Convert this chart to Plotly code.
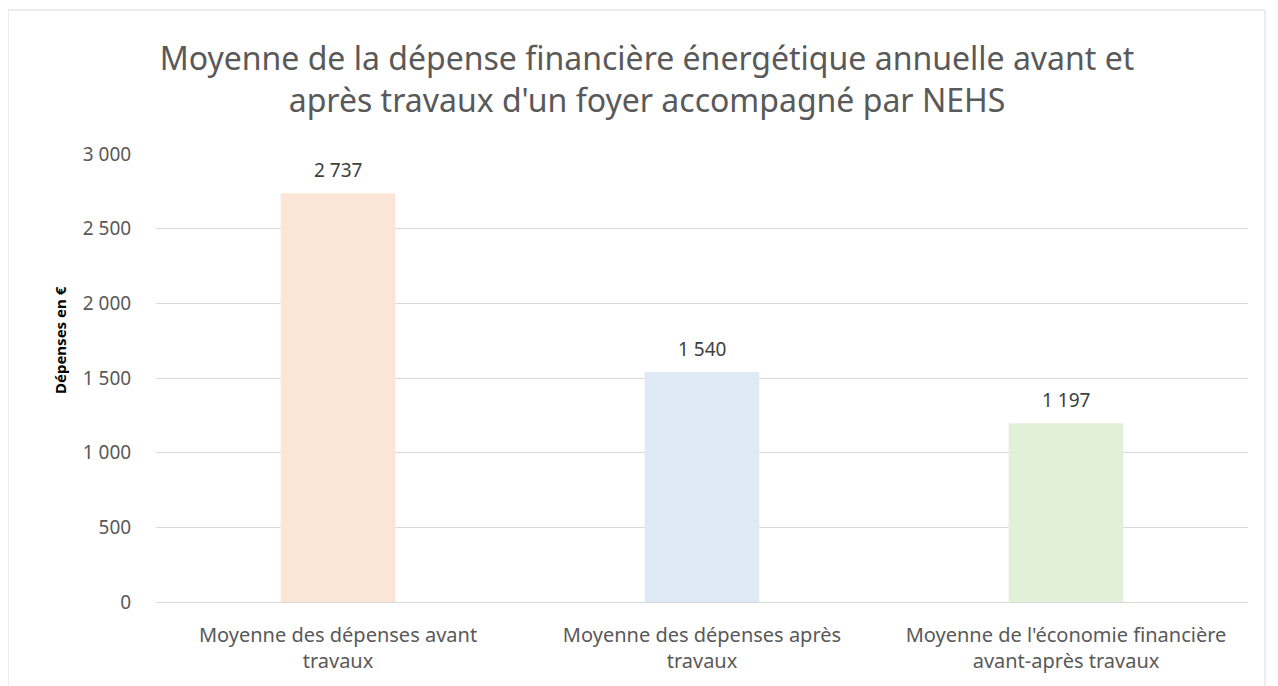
import plotly.graph_objects as go

categories = ["Moyenne des dépenses avant<br>travaux",
              "Moyenne des dépenses après<br>travaux",
              "Moyenne de l'économie financière<br>avant-après travaux"]
values = [2737, 1540, 1197]
colors = ["#FBE5D6", "#DEEBF7", "#E2F0D9"]
tick_vals = [0, 500, 1000, 1500, 2000, 2500, 3000]

W, H = 1278, 686
OFF = 8  # page body margin
L, T = 156 - OFF, 154 - OFF
R = W - (1248 - OFF)
B = H - (602 - OFF)
pw, ph = W - L - R, H - T - B

def px_x(x):  # page px -> paper
    return (x - OFF - L) / pw

def px_y(y):
    return (H - B - (y - OFF)) / ph

fig = go.Figure(go.Bar(
    x=categories, y=values, marker=dict(color=colors, line=dict(width=0)),
    hoverinfo="skip"))

for c, v in zip(categories, values):
    fig.add_annotation(x=c, y=v, text=f"{v:,}".replace(",", " "), showarrow=False,
                       yanchor="middle", yshift=23,
                       font=dict(family="Noto Sans", size=19, color="#404040"))

fig.update_layout(
    width=W, height=H, margin=dict(l=L, r=R, t=T, b=B),
    paper_bgcolor="white", plot_bgcolor="white", separators=", ",
    bargap=0.685, showlegend=False,
    font=dict(family="Noto Sans", color="#595959"),
    title=dict(text="Moyenne de la dépense financière énergétique annuelle avant et<br>après travaux d'un foyer accompagné par NEHS",
               x=0.5, xanchor="center", xref="container", y=1 - (70 - OFF)/H, yanchor="middle",
               font=dict(family="Noto Sans", size=32, color="#595959")),
    yaxis=dict(range=[0, 3000], tickvals=tick_vals, tickformat=",d",
               showgrid=True, gridcolor="#D9D9D9", gridwidth=1, zeroline=False,
               showline=False, ticks="outside", ticklen=20, tickcolor="rgba(0,0,0,0)",
               tickfont=dict(size=19, color="#595959")),
    xaxis=dict(showline=True, linecolor="#D9D9D9", linewidth=1, ticks="outside",
               ticklen=15, tickcolor="rgba(0,0,0,0)",
               tickfont=dict(size=20, color="#595959")),
)

fig.add_annotation(text="<b>Dépenses en €</b>", textangle=-90, showarrow=False,
                   xref="paper", yref="paper", x=px_x(60), y=px_y(340),
                   xanchor="center", yanchor="middle",
                   font=dict(family="Noto Sans", size=15, color="#000000"))

fig.add_shape(type="rect", xref="paper", yref="paper",
              x0=px_x(OFF), x1=px_x(1265),
              y0=-0.5, y1=px_y(10),
              line=dict(color="#D9D9D9", width=1), fillcolor="rgba(0,0,0,0)", layer="below")

fig.write_html("out.html")
